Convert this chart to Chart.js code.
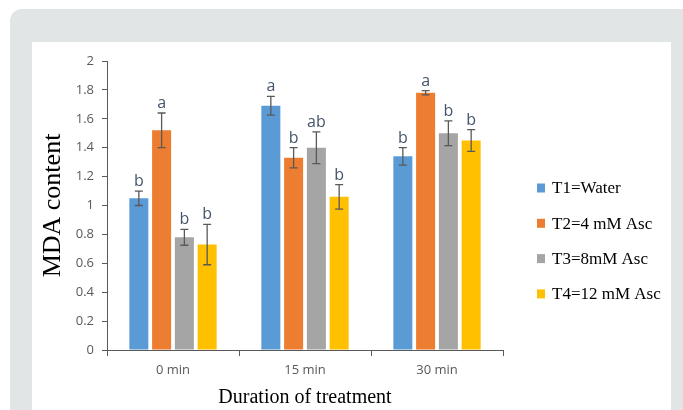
<!DOCTYPE html>
<html>
<head>
<meta charset="utf-8">
<script src="https://cdn.jsdelivr.net/npm/chart.js@4.4.1/dist/chart.umd.min.js"></script>
<style>
  html, body { margin: 0; padding: 0; background: #ffffff; width: 683px; height: 410px; overflow: hidden; }
  .outer { position: absolute; left: 10px; top: 9px; width: 673px; height: 420px; background: #e1e5e6; border-top-left-radius: 12px; }
  .inner { position: absolute; left: 32px; top: 42px; width: 639px; height: 380px; background: #ffffff; }
  #chart { position: absolute; left: 0; top: 0; }
</style>
</head>
<body>
<div class="outer"></div>
<div class="inner"></div>
<canvas id="chart" width="683" height="410"></canvas>
<script>
// categories and series
var durations = ['0 min', '15 min', '30 min'];
var seriesNames = ['T1=Water', 'T2=4 mM Asc', 'T3=8mM Asc', 'T4=12 mM Asc'];
var seriesColors = ['#5b9bd5', '#ed7d31', '#a5a5a5', '#ffc000'];

var t1 = [1.05, 1.69, 1.34];
var t2 = [1.52, 1.33, 1.78];
var t3 = [0.78, 1.40, 1.50];
var t4 = [0.73, 1.06, 1.45];

// standard errors
var errT1 = [0.05, 0.065, 0.06];
var errT2 = [0.12, 0.07, 0.015];
var errT3 = [0.055, 0.11, 0.085];
var errT4 = [0.14, 0.085, 0.075];

// significance letters
var letT1 = ['b', 'a', 'b'];
var letT2 = ['a', 'b', 'a'];
var letT3 = ['b', 'ab', 'b'];
var letT4 = ['b', 'b', 'b'];

var values = [t1, t2, t3, t4];
var errors = [errT1, errT2, errT3, errT4];
var letters = [letT1, letT2, letT3, letT4];

var axisColor = '#595959';
var tickFont = { family: 'Open Sans', size: 13 };

// error bars + letters above each bar
var errorBars = {
  id: 'errorBars',
  afterDatasetsDraw: function(chart) {
    var ctx = chart.ctx;
    var y = chart.scales.y;
    ctx.save();
    chart.data.datasets.forEach(function(ds, i) {
      var meta = chart.getDatasetMeta(i);
      meta.data.forEach(function(bar, j) {
        var v = ds.data[j], e = errors[i][j];
        var top = y.getPixelForValue(v + e);
        var bot = y.getPixelForValue(v - e);
        ctx.strokeStyle = axisColor;
        ctx.lineWidth = 1.3;
        ctx.beginPath();
        ctx.moveTo(bar.x, top); ctx.lineTo(bar.x, bot);
        ctx.moveTo(bar.x - 4, top); ctx.lineTo(bar.x + 4, top);
        ctx.moveTo(bar.x - 4, bot); ctx.lineTo(bar.x + 4, bot);
        ctx.stroke();
        ctx.fillStyle = '#44546a';
        ctx.font = '16px "Open Sans"';
        ctx.textAlign = 'center';
        ctx.textBaseline = 'alphabetic';
        ctx.fillText(letters[i][j], bar.x, top - 5);
      });
    });
    ctx.restore();
  }
};

// legend on the right
var sideLegend = {
  id: 'sideLegend',
  afterDraw: function(chart) {
    var ctx = chart.ctx;
    var area = chart.chartArea;
    var x = area.right + 34;
    var y0 = area.top + 127;
    ctx.save();
    chart.data.datasets.forEach(function(ds, i) {
      var cy = y0 + i * 35.3;
      ctx.fillStyle = ds.backgroundColor;
      ctx.fillRect(x, cy - 4.5, 8, 9);
      ctx.fillStyle = '#000000';
      ctx.font = '17px "Liberation Serif"';
      ctx.textAlign = 'left';
      ctx.textBaseline = 'middle';
      ctx.fillText(ds.label, x + 15, cy + 1);
    });
    ctx.restore();
  }
};

var ctx = document.getElementById('chart').getContext('2d');
var chart = new Chart(ctx, {
  type: 'bar',
  data: {
    labels: durations,
    datasets: values.map(function(v, i) {
      return {
        label: seriesNames[i],
        data: v,
        backgroundColor: seriesColors[i],
        borderWidth: 0,
        categoryPercentage: 0.69,
        barPercentage: 0.835
      };
    })
  },
  options: {
    responsive: false,
    devicePixelRatio: 1,
    animation: false,
    layout: { padding: { left: 32, top: 61, right: 180, bottom: 0 } },
    plugins: {
      legend: { display: false },
      tooltip: { enabled: false }
    },
    scales: {
      x: {
        grid: { drawOnChartArea: false, tickLength: 6, color: axisColor },
        border: { color: axisColor, width: 1 },
        ticks: { color: axisColor, font: tickFont, padding: 6 },
        title: {
          display: true,
          text: 'Duration of treatment',
          color: '#000000',
          font: { family: 'Liberation Serif', size: 20 },
          padding: { top: 0, bottom: 0 }
        },
        afterFit: function(scale) { scale.height = 60; }
      },
      y: {
        min: 0,
        max: 2,
        grid: { drawOnChartArea: false, tickLength: 5, color: axisColor },
        border: { color: axisColor, width: 1 },
        ticks: {
          stepSize: 0.2,
          color: axisColor,
          font: tickFont,
          padding: 8,
          callback: function(v) { return String(+v.toFixed(1)); }
        },
        title: {
          display: true,
          text: 'MDA content',
          color: '#000000',
          font: { family: 'Liberation Serif', size: 26 },
          padding: { top: 6, bottom: 0 }
        },
        afterFit: function(scale) { scale.width = 75; }
      }
    }
  },
  plugins: [errorBars, sideLegend]
});
</script>
</body>
</html>
